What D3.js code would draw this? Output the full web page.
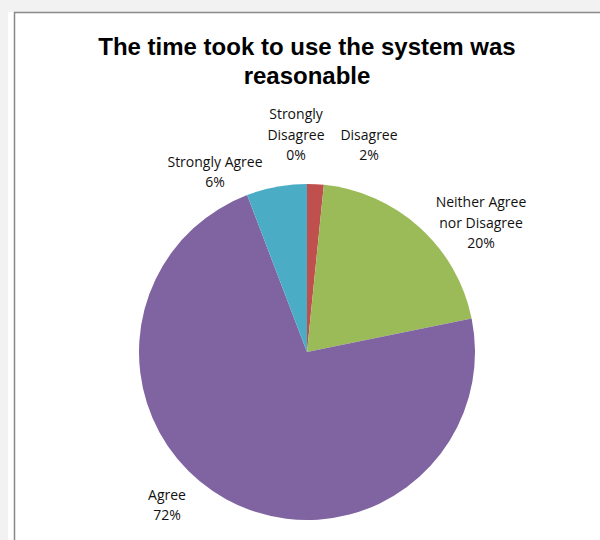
<!DOCTYPE html>
<html>
<head>
<meta charset="utf-8">
<script src="https://cdn.jsdelivr.net/npm/d3@7"></script>
<style>
  body { margin: 0; background: #f2f2f2; }
  #pieChart { width: 600px; height: 540px; }
</style>
</head>
<body>
<div id="pieChart"></div>
<script>
// answers, in the order Excel draws them (clockwise from 12 o'clock)
var categories = ["Strongly Disagree", "Disagree", "Neither Agree nor Disagree", "Agree", "Strongly Agree"];
var values = [0, 1.6, 20.2, 72.4, 5.8];
var colors = ["#4F81BD", "#C0504D", "#9BBB59", "#8064A2", "#4BACC6"];
// how each label wraps
var labelLines = [["Strongly", "Disagree"], ["Disagree"], ["Neither Agree", "nor Disagree"], ["Agree"], ["Strongly Agree"]];

var width = 600, height = 540;
var cx = 307, cy = 352, radius = 168;

// where excel put the labels, relative to the pie centre
var labelPos = [[-11, -217], [62, -207], [174, -129], [-140, 153], [-92, -180]];

var svg = d3.select("#pieChart")
    .append("svg")
    .attr("width", width)
    .attr("height", height);

// chart area with its grey frame
svg.append("rect")
    .attr("x", 8)
    .attr("y", 12)
    .attr("width", 600)
    .attr("height", 540)
    .attr("fill", "#fff");
svg.append("path")
    .attr("d", "M14.5,545V12.5H605")
    .attr("fill", "none")
    .attr("stroke", "#888")
    .attr("stroke-width", 1.5);

svg.append("text")
    .attr("x", cx)
    .attr("y", 55)
    .attr("text-anchor", "middle")
    .style("font-family", "Liberation Sans, Arial, sans-serif")
    .style("font-weight", "bold")
    .style("font-size", "24px")
    .text("The time took to use the system was");
svg.append("text")
    .attr("x", cx)
    .attr("y", 84)
    .attr("text-anchor", "middle")
    .style("font-family", "Liberation Sans, Arial, sans-serif")
    .style("font-weight", "bold")
    .style("font-size", "24px")
    .text("reasonable");

var slices = d3.pie().sort(null).value(function(d) { return d; })(values);
var arc = d3.arc().innerRadius(0).outerRadius(radius);

var g = svg.append("g")
    .attr("transform", "translate(" + cx + "," + cy + ")");

g.selectAll("path.slice")
    .data(slices)
    .enter()
    .append("path")
    .attr("class", "slice")
    .attr("d", arc)
    .attr("fill", function(d, i) { return colors[i]; });

var labels = g.selectAll("text.label")
    .data(slices)
    .enter()
    .append("text")
    .attr("class", "label")
    .attr("text-anchor", "middle")
    .attr("transform", function(d, i) { return "translate(" + labelPos[i][0] + "," + labelPos[i][1] + ")"; })
    .style("font-family", "Open Sans, sans-serif")
    .style("font-size", "14px")
    .attr("fill", "#111");

labels.each(function(d, i) {
    var lines = labelLines[i].concat([Math.round(values[i]) + "%"]);
    var t = d3.select(this);
    var top = -(lines.length - 1) * 20.5 / 2;
    lines.forEach(function(l, j) {
        t.append("tspan")
            .attr("x", 0)
            .attr("y", top + j * 20.5)
            .attr("dy", "0.35em")
            .text(l);
    });
});
</script>
</body>
</html>
